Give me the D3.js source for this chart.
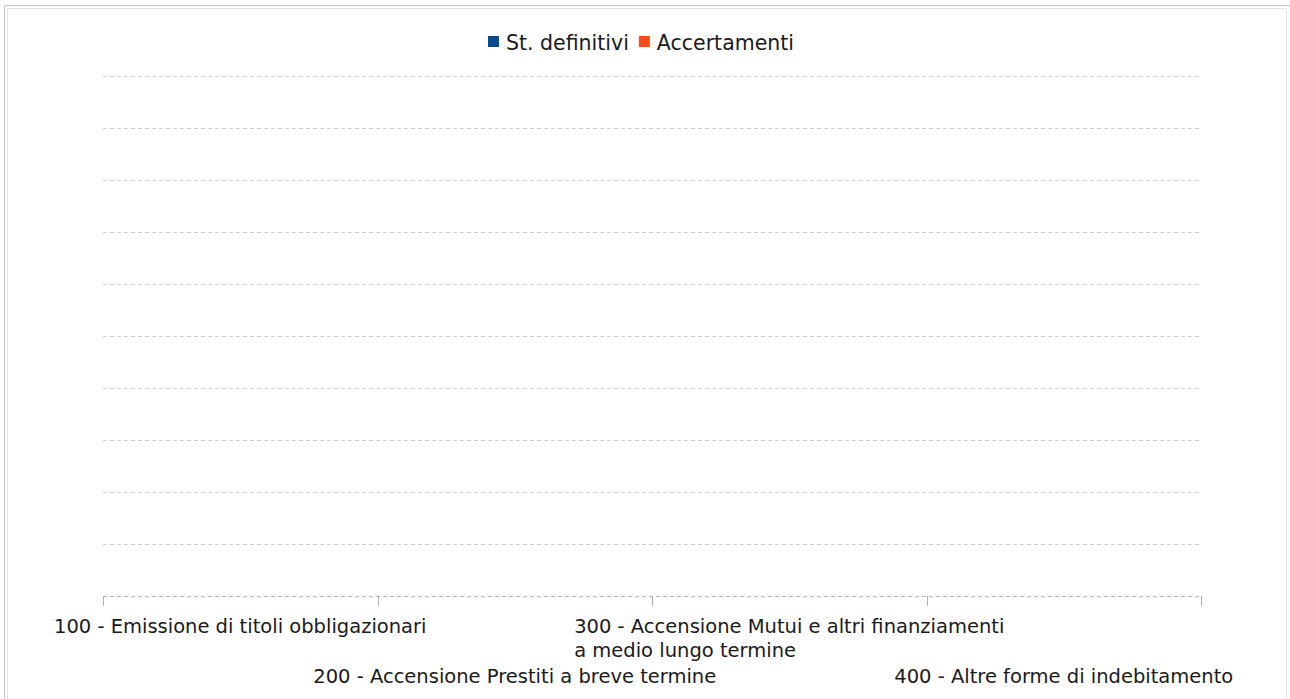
<!DOCTYPE html>
<html>
<head>
<meta charset="utf-8">
<script src="https://cdn.jsdelivr.net/npm/d3@7"></script>
<style>
  body { margin: 0; background: #fff; }
  svg text { font-family: "DejaVu Sans", sans-serif; fill: #1a1a1a; }
</style>
</head>
<body>
<svg width="1290" height="699"></svg>
<script>
// categories (multi-line labels split on '\n')
var categories = [
    '100 - Emissione di titoli obbligazionari',
    '200 - Accensione Prestiti a breve termine',
    '300 - Accensione Mutui e altri finanziamenti\na medio lungo termine',
    '400 - Altre forme di indebitamento'
];
var seriesNames = ['St. definitivi', 'Accertamenti'];
var seriesColors = ['#0b4a8c', '#ff4b1c'];
var stDefinitivi = [0, 0, 0, 0];
var accertamenti = [0, 0, 0, 0];

var svg = d3.select('svg');

// frame
svg.append('path')
    .attr('d', 'M4.5,699V5.5H1290')
    .attr('fill', 'none')
    .attr('stroke', '#c4c4c4');
svg.append('path')
    .attr('d', 'M7.5,699V8.5H1286.5V699')
    .attr('fill', 'none')
    .attr('stroke', '#e4e4e4');

var plotLeft = 103, plotRight = 1201, plotTop = 76, plotBottom = 596;

var x = d3.scaleBand()
    .domain(categories)
    .range([plotLeft, plotRight]);

var y = d3.scaleLinear()
    .domain([0, 10])
    .range([plotBottom, plotTop]);

// gridlines
svg.append('g')
    .selectAll('line')
    .data(y.ticks(10))
    .enter()
    .append('line')
    .attr('x1', plotLeft)
    .attr('x2', plotRight)
    .attr('y1', d => Math.round(y(d)) + 0.5)
    .attr('y2', d => Math.round(y(d)) + 0.5)
    .attr('stroke', d => d === 0 ? '#b8b8b8' : '#cfcfcf')
    .attr('stroke-dasharray', '4,3');

// category boundary ticks
svg.append('g')
    .selectAll('line')
    .data(d3.range(categories.length + 1))
    .enter()
    .append('line')
    .attr('x1', i => Math.round(plotLeft + i * x.step()) + 0.5)
    .attr('x2', i => Math.round(plotLeft + i * x.step()) + 0.5)
    .attr('y1', plotBottom)
    .attr('y2', plotBottom + 10)
    .attr('stroke', '#b0b0b0');

// bars (all zero)
var x1 = d3.scaleBand()
    .domain([0, 1])
    .range([0, x.bandwidth()])
    .padding(0.2);
[stDefinitivi, accertamenti].forEach(function(values, s) {
    svg.append('g')
        .selectAll('rect')
        .data(values)
        .enter()
        .append('rect')
        .attr('x', (d, i) => x(categories[i]) + x1(s))
        .attr('width', x1.bandwidth())
        .attr('y', d => y(d))
        .attr('height', d => plotBottom - y(d))
        .attr('fill', seriesColors[s]);
});

// category labels, alternating rows
var labels = svg.append('g')
    .selectAll('text')
    .data(categories)
    .enter()
    .append('text')
    .attr('font-size', 19.5);

labels.each(function(d, i) {
    var lines = d.split('\n');
    var t = d3.select(this);
    var baseY = i % 2 === 0 ? 633 : 683;
    lines.forEach(function(line, j) {
        t.append('tspan')
            .attr('x', 0)
            .attr('y', baseY + j * 24)
            .text(line);
    });
    // left-align lines, centre the block on the band
    var w = this.getBBox().width;
    var cx = x(d) + x.bandwidth() / 2;
    t.selectAll('tspan').attr('x', cx - w / 2);
});

// legend, centred
var legend = svg.append('g');
var lx = 0;
seriesNames.forEach(function(name, i) {
    legend.append('rect')
        .attr('x', lx)
        .attr('y', 36)
        .attr('width', 11)
        .attr('height', 11)
        .attr('fill', seriesColors[i]);
    var t = legend.append('text')
        .attr('x', lx + 18)
        .attr('y', 50)
        .attr('font-size', 20.5)
        .text(name);
    lx += 18 + t.node().getComputedTextLength() + 10;
});
var lw = lx - 10;
legend.attr('transform', 'translate(' + (641 - lw / 2) + ',0)');
</script>
</body>
</html>
